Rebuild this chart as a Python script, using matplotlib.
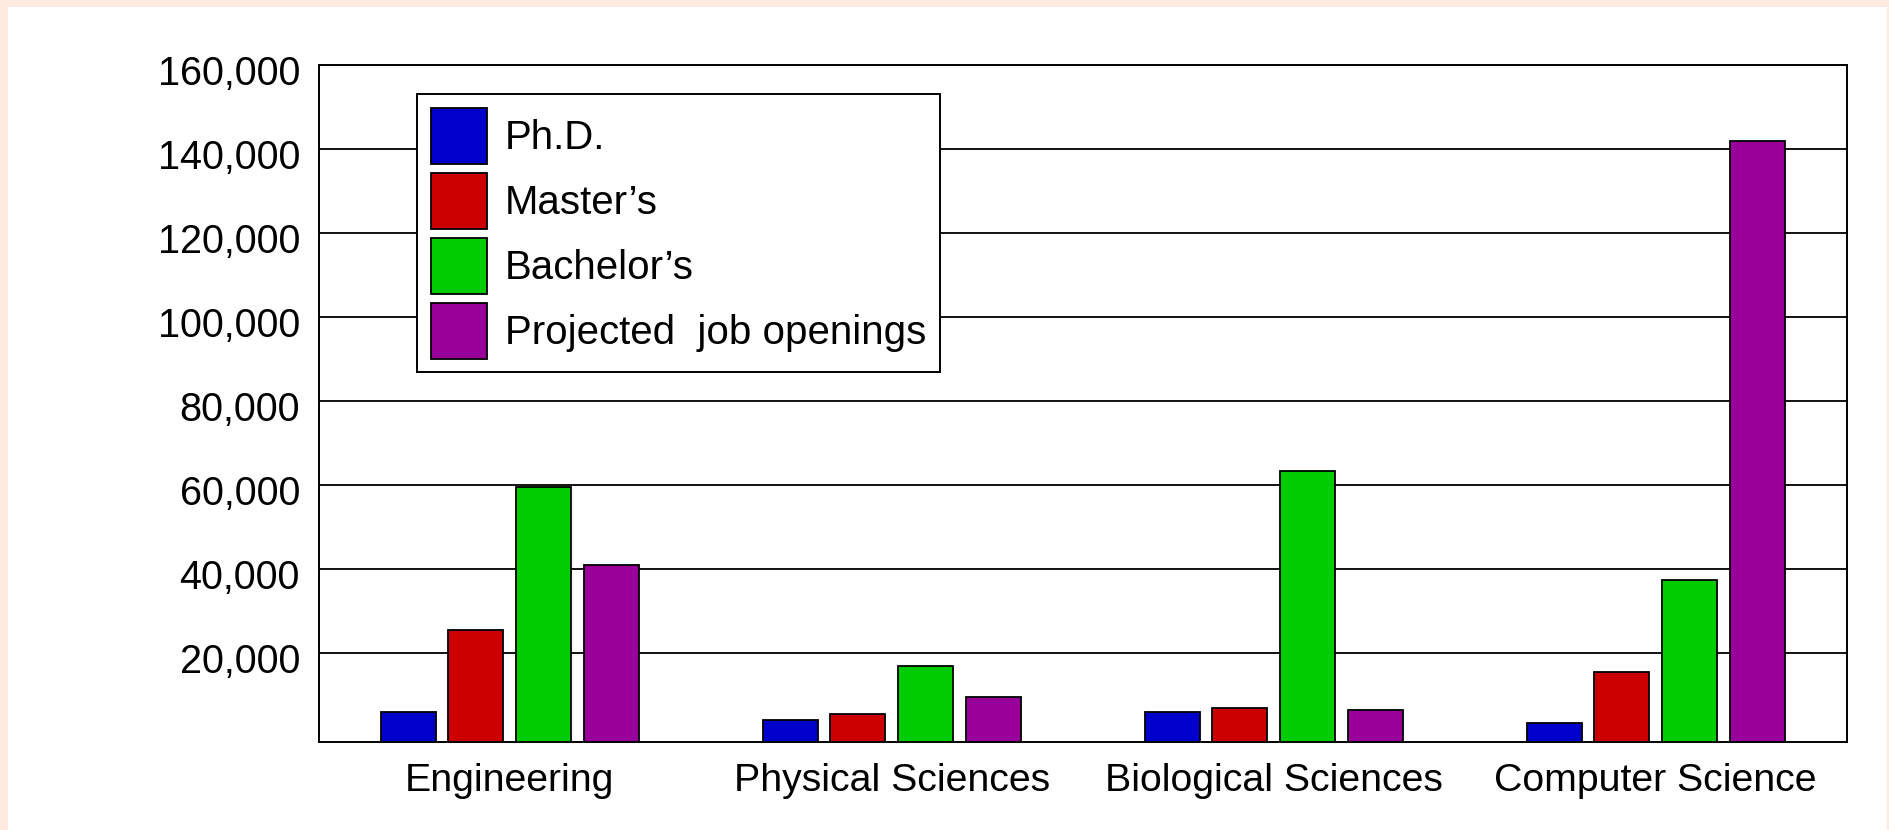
import numpy as np
import matplotlib
matplotlib.use('Agg')
import matplotlib.pyplot as plt
from matplotlib.patches import Rectangle
from matplotlib.ticker import FuncFormatter
from matplotlib.transforms import ScaledTranslation

plt.rcParams['font.family'] = ['Liberation Sans', 'DejaVu Sans']

fields = ['Engineering', 'Physical Sciences', 'Biological Sciences', 'Computer Science']
series = ['Ph.D.', "Master\u2019s", "Bachelor\u2019s", 'Projected  job openings']
phd = [6000, 4100, 6000, 3500]
masters = [25600, 5500, 7100, 15500]
bachelors = [59700, 17000, 63500, 37500]
openings = [41000, 9600, 6500, 142000]
colors = ['#0000cc', '#cc0000', '#00cc00', '#990099']

W, H = 1889, 830
fig = plt.figure(figsize=(W / 100, H / 100), dpi=100)
fig.patch.set_facecolor('#fdebdf')
# white sheet on the peach background, kept behind the axes
fig.patches.append(Rectangle((8 / W, 0), (1887 - 8) / W, (H - 7) / H,
                             transform=fig.transFigure, facecolor='white',
                             edgecolor='none', zorder=-10))

ax = fig.add_axes([318.7 / W, 1 - 741.7 / H, 1528 / W, 676.7 / H])
ax.set_facecolor('white')

ymin, ymax = -1000, 160000
x = np.arange(len(fields))
pitch = 0.177
width = 0.144
for i, (vals, name, c) in enumerate(zip([phd, masters, bachelors, openings], series, colors)):
    v = np.array(vals)
    ax.bar(x + (i - 1.5) * pitch, v - ymin, width, bottom=ymin, color=c,
           edgecolor='black', linewidth=1.3, label=name, zorder=3)

ax.set_xlim(-0.5, 3.5)
ax.set_ylim(ymin, ymax)
ax.set_xticks(x)
ax.set_xticklabels(fields, fontsize=28.3)
ax.set_yticks(np.arange(20000, 160001, 20000))
ax.yaxis.set_major_formatter(FuncFormatter(lambda v, p: '{:,.0f}'.format(v)))
ax.tick_params(axis='y', length=0, pad=13.5, labelsize=28.5)
ax.tick_params(axis='x', length=0, pad=15)
shift = ScaledTranslation(0, -0.045, fig.dpi_scale_trans)
for lab in ax.get_yticklabels():
    lab.set_transform(lab.get_transform() + shift)
ax.yaxis.grid(True, color='black', linewidth=1.3)
ax.set_axisbelow(True)
for s in ax.spines.values():
    s.set_linewidth(1.4)
    s.set_color('black')

leg = ax.legend(loc='upper left', bbox_to_anchor=(0.0645, 0.9567), borderaxespad=0,
                fontsize=29, handlelength=1.4, handleheight=1.76,
                labelspacing=0.23, handletextpad=0.45, borderpad=0.33,
                fancybox=False, framealpha=1)
leg.get_frame().set_edgecolor('black')
leg.get_frame().set_linewidth(1.4)

fig.savefig('out.png', dpi=100, facecolor=fig.get_facecolor())
